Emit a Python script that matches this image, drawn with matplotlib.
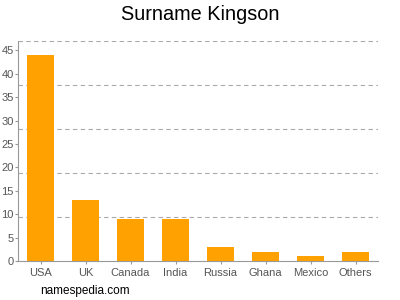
import matplotlib
matplotlib.use("Agg")
import matplotlib.pyplot as plt
import numpy as np

plt.rcParams["font.family"] = ["Liberation Sans", "DejaVu Sans"]

countries = ["USA", "UK", "Canada", "India", "Russia", "Ghana", "Mexico", "Others"]
counts = [44, 13, 9, 9, 3, 2, 1, 2]
yticks = [0, 5, 10, 15, 20, 25, 30, 35, 40, 45]

fig = plt.figure(figsize=(4, 3), dpi=100)
ax = fig.add_axes([0.045, 0.13, 0.9, 0.733])

x = np.arange(len(countries))
ax.bar(x, counts, width=0.62, color="#ffa100", zorder=2)

ax.set_xlim(-0.5, len(countries) - 0.5)
ax.set_ylim(0, 47)
ax.set_yticks(yticks)
ax.set_xticks(x)
ax.set_xticklabels(countries)

# grid lines split the range into five equal bands
for g in np.linspace(0, 47, 6)[1:]:
    ax.axhline(g, color="#aaaaaa", linestyle=(0, (4, 3)), linewidth=0.8, zorder=1)

for side in ["top", "right"]:
    ax.spines[side].set_visible(False)
ax.spines["left"].set_color("#999999")
ax.spines["bottom"].set_color("#999999")
ax.tick_params(axis="both", colors="#999999", labelcolor="#555555", labelsize=8, length=2)
ax.tick_params(axis="y", pad=1)
ax.tick_params(axis="x", pad=3)

fig.text(0.5, 0.95, "Surname Kingson", ha="center", va="center", fontsize=14.3)
fig.text(0.1, 0.03, "namespedia.com", ha="left", va="center", fontsize=8.5)

fig.savefig("out.png", dpi=100)
